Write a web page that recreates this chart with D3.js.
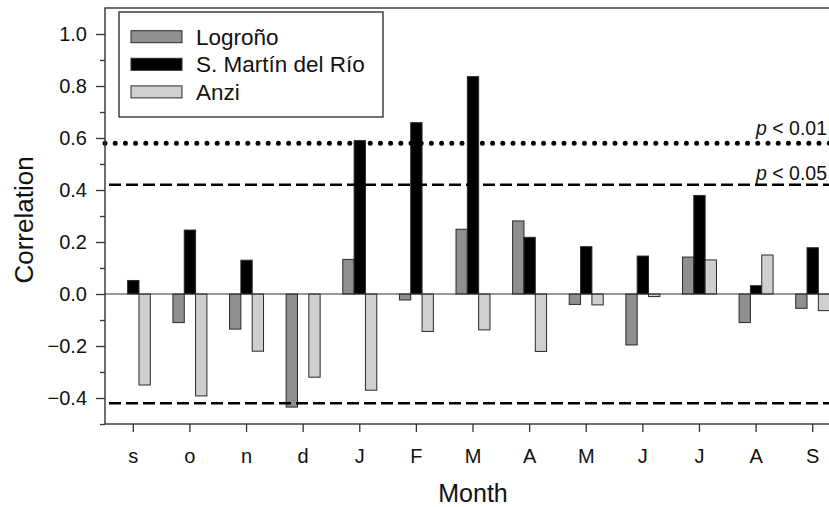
<!DOCTYPE html>
<html>
<head>
<meta charset="utf-8">
<script src="https://cdn.jsdelivr.net/npm/d3@7"></script>
<style>
  body { margin: 0; background: #fff; }
  text { font-family: "Liberation Sans", Arial, sans-serif; fill: #111; }
</style>
</head>
<body>
<svg id="chart" width="829" height="507"></svg>
<script>
// months (sep of previous year .. sep of current year)
const months = ["s", "o", "n", "d", "J", "F", "M", "A", "M", "J", "J", "A", "S"];
const series = ["Logroño", "S. Martín del Río", "Anzi"];
const logrono = [null, -0.11, -0.135, -0.435, 0.133, -0.023, 0.249, 0.281, -0.04, -0.196, 0.142, -0.11, -0.055];
const sMartin = [0.052, 0.246, 0.13, null, 0.59, 0.659, 0.836, 0.218, 0.182, 0.146, 0.379, 0.032, 0.178];
const anzi = [-0.35, -0.392, -0.22, -0.32, -0.37, -0.144, -0.138, -0.221, -0.042, -0.01, 0.131, 0.15, -0.064];
const majorTicks = [-0.4, -0.2, 0.0, 0.2, 0.4, 0.6, 0.8, 1.0];
const minorTicks = [-0.5, -0.3, -0.1, 0.1, 0.3, 0.5, 0.7, 0.9];
const p01 = 0.58;
const p05 = 0.42;

const colors = { "Logroño": "#8f8f8f", "S. Martín del Río": "#000", "Anzi": "#cfcfcf" };
const values = { "Logroño": logrono, "S. Martín del Río": sMartin, "Anzi": anzi };

const svg = d3.select("#chart");
const pLeft = 105, pRight = 841, pTop = 8, pBottom = 424;

const x = d3.scaleBand().domain(d3.range(months.length)).range([pLeft, pRight]).padding(0);
const x1 = d3.scaleBand().domain(series).range([0, x.bandwidth()]).paddingOuter(1).paddingInner(0);
const y = d3.scaleLinear().domain([-0.5, 1.1]).range([pBottom, pTop]);

// bars
const data = [];
months.forEach((m, i) => {
  series.forEach((s) => {
    if (values[s][i] !== null) data.push({ i: i, s: s, v: values[s][i] });
  });
});
svg.append("g")
  .selectAll("rect")
  .data(data)
  .enter()
  .append("rect")
  .attr("x", (d) => x(d.i) + x1(d.s))
  .attr("width", x1.bandwidth())
  .attr("y", (d) => y(Math.max(0, d.v)))
  .attr("height", (d) => Math.abs(y(d.v) - y(0)))
  .attr("fill", (d) => colors[d.s])
  .attr("stroke", "#2a2a2a")
  .attr("stroke-width", 1);

// zero line
svg.append("line")
  .attr("x1", pLeft).attr("x2", pRight)
  .attr("y1", y(0)).attr("y2", y(0))
  .attr("stroke", "#333").attr("stroke-width", 1);

// significance lines
svg.append("line")
  .attr("x1", pLeft).attr("x2", pRight)
  .attr("y1", y(p01)).attr("y2", y(p01))
  .attr("stroke", "#000").attr("stroke-width", 5)
  .attr("stroke-linecap", "round")
  .attr("stroke-dasharray", "0 10.2");
[p05, -p05].forEach((v) => {
  svg.append("line")
    .attr("x1", pLeft + 4).attr("x2", pRight)
    .attr("y1", y(v)).attr("y2", y(v))
    .attr("stroke", "#000").attr("stroke-width", 2.6)
    .attr("stroke-dasharray", "12 5");
});

function pLabel(txt, yy) {
  const t = svg.append("text")
    .attr("x", 827).attr("y", yy)
    .attr("text-anchor", "end")
    .style("font-size", "19.5px");
  t.append("tspan").style("font-style", "italic").text("p");
  t.append("tspan").text(" < " + txt);
}
pLabel("0.01", y(p01) - 8);
pLabel("0.05", y(p05) - 5);

// frame
svg.append("rect")
  .attr("x", pLeft).attr("y", pTop)
  .attr("width", pRight - pLeft).attr("height", pBottom - pTop)
  .attr("fill", "none").attr("stroke", "#333").attr("stroke-width", 1.4);

// y axis
const yAxis = svg.append("g").attr("transform", `translate(${pLeft},0)`)
  .call(d3.axisLeft(y).tickValues(majorTicks).tickSize(9).tickPadding(9).tickFormat(d3.format(".1f")));
yAxis.select(".domain").remove();
yAxis.selectAll("line").attr("stroke", "#333").attr("stroke-width", 1.3);
yAxis.selectAll("text").style("font-size", "20px").style("font-family", "Liberation Sans, Arial, sans-serif");
const yMinor = svg.append("g").attr("transform", `translate(${pLeft},0)`)
  .call(d3.axisLeft(y).tickValues(minorTicks).tickSize(5).tickFormat(""));
yMinor.select(".domain").remove();
yMinor.selectAll("line").attr("stroke", "#333").attr("stroke-width", 1.3);

// x axis
const xAxis = svg.append("g").attr("transform", `translate(0,${pBottom})`)
  .call(d3.axisBottom(x).tickSize(8).tickPadding(17).tickFormat((i) => months[i]));
xAxis.select(".domain").remove();
xAxis.selectAll("line").attr("stroke", "#333").attr("stroke-width", 1.3);
xAxis.selectAll("text").style("font-size", "20px").style("font-family", "Liberation Sans, Arial, sans-serif");

// axis titles
svg.append("text")
  .attr("x", x(6) + x.bandwidth() / 2).attr("y", 502)
  .attr("text-anchor", "middle")
  .style("font-size", "25px")
  .text("Month");
svg.append("text")
  .attr("transform", "translate(33,220) rotate(-90)")
  .attr("text-anchor", "middle")
  .style("font-size", "26px")
  .text("Correlation");

// legend
const legend = svg.append("g");
legend.append("rect")
  .attr("x", 119).attr("y", 12).attr("width", 264).attr("height", 105)
  .attr("fill", "#fff").attr("stroke", "#222").attr("stroke-width", 1.3);
series.forEach((s, k) => {
  const cy = 36.7 + k * 27.6;
  legend.append("rect")
    .attr("x", 131).attr("y", cy - 6).attr("width", 51).attr("height", 12)
    .attr("fill", colors[s]).attr("stroke", "#2a2a2a").attr("stroke-width", 1);
  legend.append("text")
    .attr("x", 196).attr("y", cy + 8)
    .style("font-size", "22.5px")
    .text(s);
});
</script>
</body>
</html>
